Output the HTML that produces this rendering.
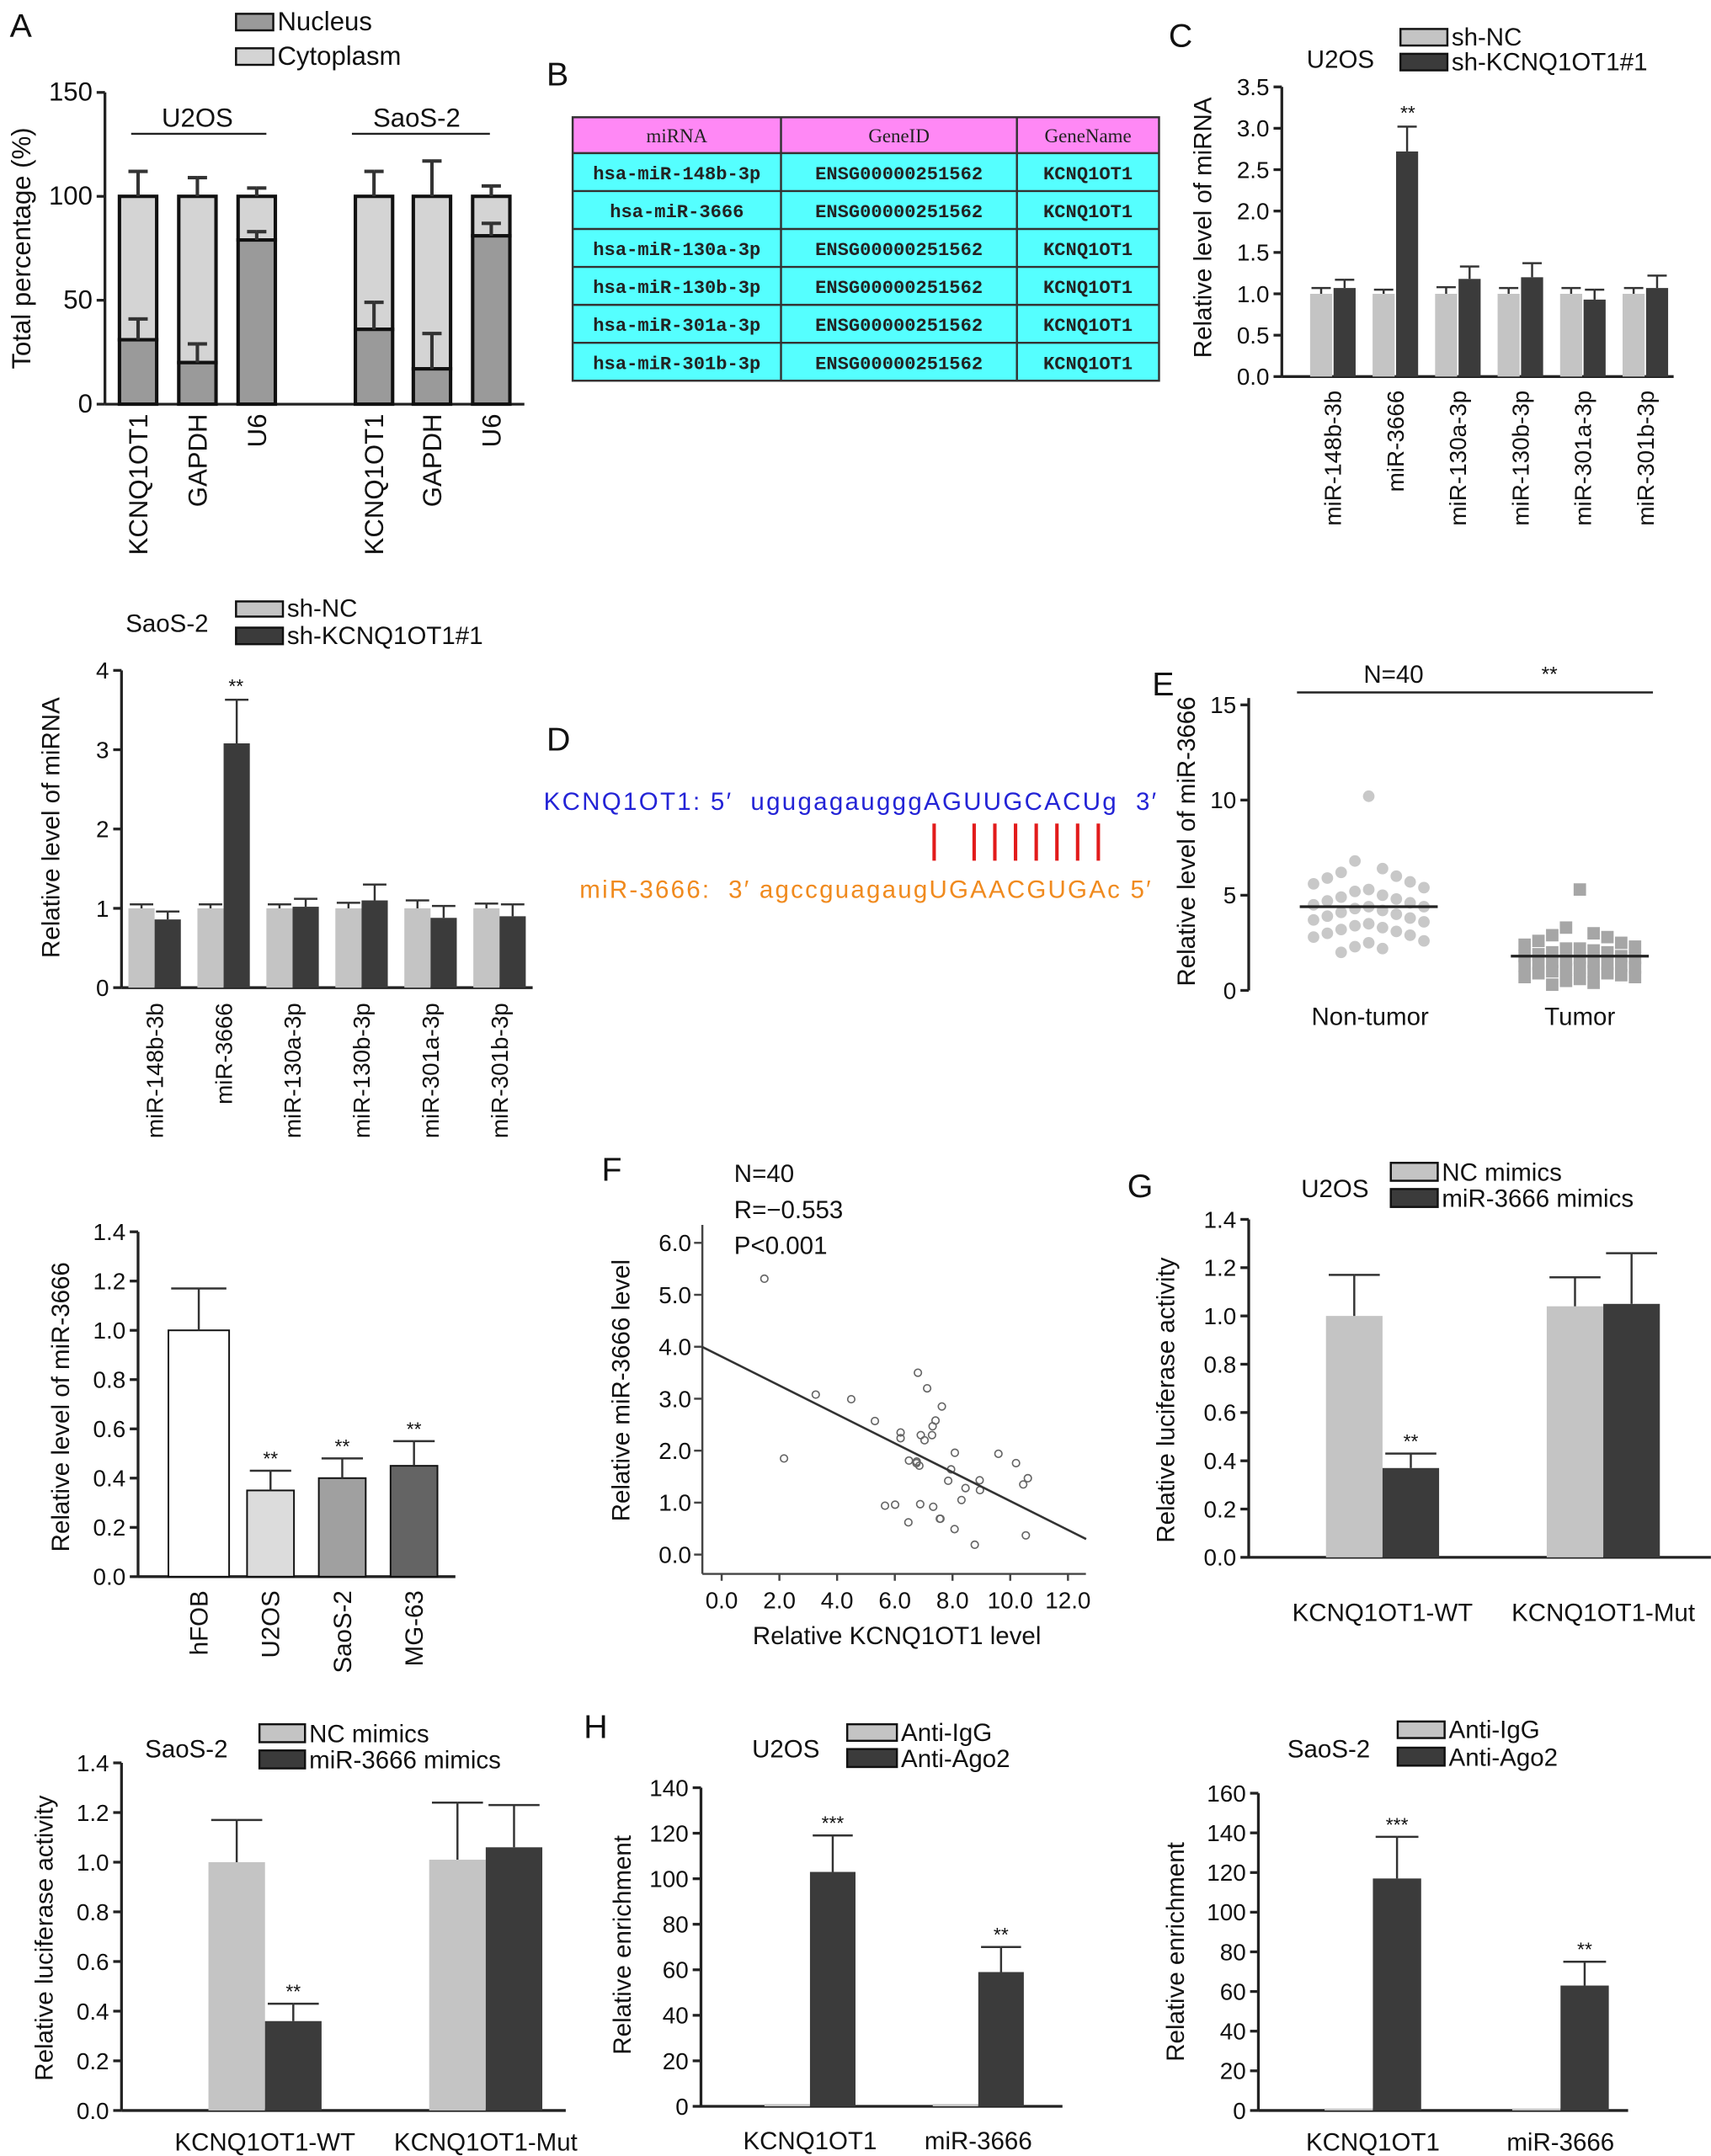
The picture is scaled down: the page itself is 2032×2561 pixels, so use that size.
<!DOCTYPE html>
<html><head><meta charset="utf-8"><style>
html,body{margin:0;padding:0;background:#fff;}
svg{display:block;font-family:"Liberation Sans",Arial,sans-serif;}
</style></head><body>
<svg id="fig" width="2032" height="2561" viewBox="0 0 1240 1563" xmlns="http://www.w3.org/2000/svg">
<rect x="0" y="0" width="1240" height="1563" fill="#fff"/>
</svg>
<script>
const NS="http://www.w3.org/2000/svg";
const svg=document.getElementById('fig');
// ---------- DATA ----------
const aCats=["KCNQ1OT1","GAPDH","U6","KCNQ1OT1","GAPDH","U6"];
const aNucleus=[31,20,79,36,17,81];
const aNucleusErr=[10,9,4,13,17,6];
const aCytoErr=[12,9,4,12,17,5];
const aTicks=[0,50,100,150];

const tblHeader=["miRNA","GeneID","GeneName"];
const tblMirna=["hsa-miR-148b-3p","hsa-miR-3666","hsa-miR-130a-3p","hsa-miR-130b-3p","hsa-miR-301a-3p","hsa-miR-301b-3p"];
const tblGeneId=["ENSG00000251562","ENSG00000251562","ENSG00000251562","ENSG00000251562","ENSG00000251562","ENSG00000251562"];
const tblGeneName=["KCNQ1OT1","KCNQ1OT1","KCNQ1OT1","KCNQ1OT1","KCNQ1OT1","KCNQ1OT1"];

const mirCats=["miR-148b-3b","miR-3666","miR-130a-3p","miR-130b-3p","miR-301a-3p","miR-301b-3p"];
const cShNC=[1.0,1.0,1.0,1.0,1.0,1.0];
const cShNCErr=[0.07,0.05,0.08,0.07,0.07,0.07];
const cShK=[1.07,2.72,1.18,1.2,0.93,1.07];
const cShKErr=[0.1,0.3,0.15,0.17,0.12,0.15];
const cTicks=[0,0.5,1.0,1.5,2.0,2.5,3.0,3.5];

const sShNC=[1.0,1.0,1.0,1.0,1.0,1.0];
const sShNCErr=[0.05,0.05,0.05,0.07,0.1,0.06];
const sShK=[0.86,3.08,1.02,1.1,0.88,0.9];
const sShKErr=[0.1,0.55,0.1,0.2,0.15,0.15];
const sTicks=[0,1,2,3,4];

const eNonTumor=[10.2,6.8,6.4,6.2,6.0,5.9,5.7,5.6,5.4,5.3,5.2,5.0,4.9,4.8,4.7,4.6,4.5,4.4,4.4,4.3,4.2,4.1,4.0,3.9,3.8,3.7,3.6,3.5,3.4,3.3,3.2,3.1,3.0,2.9,2.8,2.6,2.5,2.3,2.2,2.0];
const eTumor=[5.3,3.3,3.0,2.9,2.8,2.6,2.5,2.4,2.3,2.2,2.2,2.1,2.0,2.0,1.9,1.8,1.8,1.7,1.7,1.6,1.5,1.5,1.4,1.4,1.3,1.3,1.2,1.2,1.1,1.0,1.0,0.9,0.9,0.8,0.7,0.7,0.6,0.5,0.4,0.3];
const eMeans=[4.4,1.8];
const eTicks=[0,5,10,15];

const lineCats=["hFOB","U2OS","SaoS-2","MG-63"];
const lineVals=[1.0,0.35,0.40,0.45];
const lineErr=[0.17,0.08,0.08,0.1];
const lineStars=["","**","**","**"];
const lineTicks=[0,0.2,0.4,0.6,0.8,1.0,1.2,1.4];

const fX=[1.48,2.16,3.26,4.49,5.31,6.20,6.20,6.80,7.12,7.63,7.41,7.31,7.29,6.90,7.03,8.08,9.59,10.20,6.49,6.76,6.85,7.95,7.85,8.94,8.95,8.45,10.61,10.45,8.31,5.66,6.01,6.88,7.33,6.47,7.56,7.58,8.07,10.54,8.77,6.75];
const fY=[5.31,1.85,3.08,2.99,2.57,2.35,2.24,3.50,3.20,2.85,2.58,2.47,2.30,2.30,2.20,1.96,1.94,1.76,1.81,1.79,1.71,1.64,1.42,1.43,1.24,1.28,1.47,1.35,1.05,0.94,0.96,0.97,0.92,0.62,0.69,0.69,0.49,0.37,0.19,1.76];
const fFit=[3.81,-0.278];
const fXTicks=[0,2,4,6,8,10,12];
const fYTicks=[0,1,2,3,4,5,6];

const lucCats=["KCNQ1OT1-WT","KCNQ1OT1-Mut"];
const gNC=[1.0,1.04];
const gNCErr=[0.17,0.12];
const gMim=[0.37,1.05];
const gMimErr=[0.06,0.21];
const sLNC=[1.0,1.01];
const sLNCErr=[0.17,0.23];
const sLMim=[0.36,1.06];
const sLMimErr=[0.07,0.17];
const lucTicks=[0,0.2,0.4,0.6,0.8,1.0,1.2,1.4];

const ripCats=["KCNQ1OT1","miR-3666"];
const hUIgG=[1,1];
const hUAgo=[103,59];
const hUAgoErr=[16,11];
const hUTicks=[0,20,40,60,80,100,120,140];
const hSIgG=[1,1];
const hSAgo=[117,63];
const hSAgoErr=[21,12];
const hSTicks=[0,20,40,60,80,100,120,140,160];
const ripStars=["***","**"];

// ---------- HELPERS ----------
function mk(tag,attrs,parent){const e=document.createElementNS(NS,tag);for(const k in attrs)e.setAttribute(k,attrs[k]);(parent||svg).appendChild(e);return e;}
function txt(s,x,y,size,parent,anchor,fill,extra){const t=mk('text',Object.assign({x:x,y:y,'font-size':size,'text-anchor':anchor||'start',fill:fill||'#111'},extra||{}),parent);t.textContent=s;return t;}
function grp(name){const g=mk('g',{});return g;}
function lin(scaleFrom,scaleTo,px0,px1){return v=>px0+(v-scaleFrom)/(scaleTo-scaleFrom)*(px1-px0);}
function yAxis(g,x,y,ticks,fmt,top,size){
  const ax=mk('line',{x1:x,y1:y(ticks[0]),x2:x,y2:top,stroke:'#222','stroke-width':2},g);
  
  ticks.forEach(t=>{mk('line',{x1:x-6,y1:y(t),x2:x,y2:y(t),stroke:'#222','stroke-width':2},g);
    const l=txt(fmt(t),x-9,y(t)+6,size||17,g,'end');
    });
}
function xAxisLine(g,x0,x1,y){const a=mk('line',{x1:x0,y1:y,x2:x1,y2:y,stroke:'#222','stroke-width':2},g);}
function rotLabel(g,s,x,y,size){const t=txt(s,0,0,size||17,g,'end','#111',{transform:`translate(${x},${y}) rotate(-90)`,dy:'0.35em'});return t;}
function yTitle(g,s,x,cy,size){const t=txt(s,0,0,size||18,g,'middle','#111',{transform:`translate(${x},${cy}) rotate(-90)`});return t;}
function bar(g,x,w,y,v,fill,name,sw){const r=mk('rect',{x:x,y:y(v),width:w,height:y(0)-y(v),fill:fill,stroke:sw?'#111':'none','stroke-width':sw||0},g);return r;}
function err(g,cx,y,v,e,cap,sw){mk('line',{x1:cx,y1:y(v),x2:cx,y2:y(v+e),stroke:'#333','stroke-width':sw||1.5},g);mk('line',{x1:cx-cap,y1:y(v+e),x2:cx,y2:y(v+e),stroke:'#333','stroke-width':sw||1.5},g);mk('line',{x1:cx,y1:y(v+e),x2:cx+cap,y2:y(v+e),stroke:'#333','stroke-width':sw||1.5},g);}
function legendBox(g,x,y,w,h,fill,label,size){const r=mk('rect',{x:x,y:y,width:w,height:h,fill:fill,stroke:'#111','stroke-width':1.5},g);const t=txt(label,x+w+3,y+h,size||18,g);}
function panelLetter(s,x,y){const t=txt(s,x,y,24,svg);}
const GREY='#c4c4c4',DARK='#3b3b3b';

// ---------- PANEL A ----------
(function(){
  const g=grp('panel-a-chart');panelLetter('A',7,27);
  const y=lin(0,150,293,67);
  yAxis(g,76,y,aTicks,t=>String(t),67,19);
  xAxisLine(g,76,380,293);
  const centers=[100,143,186,271,313,356];
  aCats.forEach((c,i)=>{
    const cx=centers[i],w=27;
    const cy=mk('rect',{x:cx-w/2,y:y(100),width:w,height:y(aNucleus[i])-y(100),fill:'#d4d4d4',stroke:'#111','stroke-width':2.5},g);
    
    const nu=mk('rect',{x:cx-w/2,y:y(aNucleus[i]),width:w,height:y(0)-y(aNucleus[i]),fill:'#9a9a9a',stroke:'#111','stroke-width':2.5},g);
    
    err(g,cx,y,100,aCytoErr[i],7,2.5);
    err(g,cx,y,aNucleus[i],aNucleusErr[i],7,2.5);
    rotLabel(g,c,cx,300,19);
  });
  const t1=txt('U2OS',143,92,19,g,'middle');
  mk('line',{x1:95,y1:97,x2:193,y2:97,stroke:'#222','stroke-width':1.5},g);
  const t2=txt('SaoS-2',302,92,19,g,'middle');
  mk('line',{x1:255,y1:97,x2:355,y2:97,stroke:'#222','stroke-width':1.5},g);
  legendBox(g,171,10,27,12,'#9a9a9a','Nucleus',19);
  legendBox(g,171,35,27,12,'#d4d4d4','Cytoplasm',19);
  yTitle(g,'Total percentage (%)',22,180,19);
})();

// ---------- PANEL B TABLE ----------
(function(){
  const g=grp('panel-b-table');panelLetter('B',396,62);
  const cols=[415,566,737,840],top=85,hh=26,rh=27.5;
  const hr=mk('rect',{x:415,y:top,width:425,height:hh,fill:'#ff88f5'},g);
  const br=mk('rect',{x:415,y:top+hh,width:425,height:rh*6,fill:'#55ffff'},g);
  tblHeader.forEach((h,i)=>{const t=txt(h,(cols[i]+cols[i+1])/2,top+18,14,g,'middle','#222',{'font-family':'"Liberation Serif",serif'});});
  const rows=[tblMirna,tblGeneId,tblGeneName];
  for(let r=0;r<6;r++){rows.forEach((arr,i)=>{const t=txt(arr[r],(cols[i]+cols[i+1])/2,top+hh+rh*r+19,13.5,g,'middle','#222',{'font-family':'"Liberation Mono",monospace','font-weight':'bold'});});
    mk('line',{x1:415,y1:top+hh+rh*r,x2:840,y2:top+hh+rh*r,stroke:'#333','stroke-width':1.5},g);}
  mk('rect',{x:415,y:top,width:425,height:hh+rh*6,fill:'none',stroke:'#333','stroke-width':1.5},g);
  cols.slice(1,3).forEach(c=>mk('line',{x1:c,y1:top,x2:c,y2:top+hh+rh*6,stroke:'#333','stroke-width':1.5},g));
})();

// grouped bar helper
function grouped(g,y,centers,a,aE,b,bE,w,gap){centers.forEach((cx,i)=>{
  bar(g,cx-w-gap/2,w,y,a[i],GREY,'bar-control');err(g,cx-w/2-gap/2,y,a[i],aE[i],w/2-1);
  bar(g,cx+gap/2,w,y,b[i],DARK,'bar-treated');err(g,cx+w/2+gap/2,y,b[i],bE[i],w/2-1);});}

// ---------- PANEL C ----------
(function(){
  const g=grp('panel-c-chart');panelLetter('C',847,34);
  const y=lin(0,3.5,273,63);
  yAxis(g,929,y,cTicks,t=>t.toFixed(1),63,17);
  xAxisLine(g,929,1213,273);
  const centers=mirCats.map((c,i)=>966+45.3*i);
  grouped(g,y,centers,cShNC,cShNCErr,cShK,cShKErr,16,1);
  mirCats.forEach((c,i)=>rotLabel(g,c,centers[i],283,17));
  const s=txt('**',centers[1]+9,y(cShK[1]+cShKErr[1])-5,14,g,'middle');
  const t=txt('U2OS',947,49,18,g);
  legendBox(g,1015,21,34,12,GREY,'sh-NC');
  legendBox(g,1015,39,34,12,DARK,'sh-KCNQ1OT1#1');
  yTitle(g,'Relative level of miRNA',878,165,18);
})();

// ---------- PANEL SaoS-2 miRNA ----------
(function(){
  const g=grp('panel-saos2-mirna-chart');
  const y=lin(0,4,716,486);
  yAxis(g,88,y,sTicks,t=>String(t),486,17);
  xAxisLine(g,88,386,716);
  const centers=mirCats.map((c,i)=>112+50*i);
  grouped(g,y,centers,sShNC,sShNCErr,sShK,sShKErr,19,0);
  mirCats.forEach((c,i)=>rotLabel(g,c,centers[i],727,17));
  const s=txt('**',centers[1]+9,y(sShK[1]+sShKErr[1])-5,14,g,'middle');
  const t=txt('SaoS-2',91,458,18,g);
  legendBox(g,171,436,34,11,GREY,'sh-NC');
  legendBox(g,171,455,34,12,DARK,'sh-KCNQ1OT1#1');
  yTitle(g,'Relative level of miRNA',43,600,18);
})();

// ---------- PANEL D ----------
(function(){
  const g=grp('panel-d-binding-site');panelLetter('D',396,544);
  const t1=txt('KCNQ1OT1: 5′  ugugagaugggAGUUGCACUg  3′',394,587,18,g,'start','#2323d6',{style:'white-space:pre',textLength:444,lengthAdjust:'spacing'});
  const t2=txt('miR-3666:  3′ agccguagaugUGAACGUGAc 5′',420,651,18,g,'start','#f08a1e',{style:'white-space:pre',textLength:414,lengthAdjust:'spacing'});
  [677,706,721,736,751,766,781,796].forEach(x=>{const l=mk('line',{x1:x,y1:597,x2:x,y2:624,stroke:'#e21b1b','stroke-width':2.5},g);});
})();

// ---------- PANEL E ----------
(function(){
  const g=grp('panel-e-chart');panelLetter('E',835,504);
  const y=lin(0,15,718,511);
  yAxis(g,905,y,eTicks,t=>String(t),506,17);
  const cxs=[992,1145];
  const offs=[0,-10,10,-20,20,-30,30,-40,40];
  eNonTumor.forEach((v,i)=>{const c=mk('circle',{cx:cxs[0]+offs[i%9],cy:y(v),r:4.2,fill:'#c8c8c8'},g);});
  eTumor.forEach((v,i)=>{const c=mk('rect',{x:cxs[1]+offs[i%9]-4.5,y:y(v)-4.5,width:9,height:9,fill:'#a6a6a6'},g);});
  eMeans.forEach((m,i)=>{const l=mk('line',{x1:cxs[i]-50,y1:y(m),x2:cxs[i]+50,y2:y(m),stroke:'#222','stroke-width':2},g);});
  const n=txt('N=40',1010,495,18,g,'middle');
  const s=txt('**',1123,494,15,g,'middle');
  mk('line',{x1:940,y1:502,x2:1198,y2:502,stroke:'#222','stroke-width':1.5},g);
  const l1=txt('Non-tumor',993,743,18,g,'middle');
  const l2=txt('Tumor',1145,743,18,g,'middle');
  yTitle(g,'Relative level of miR-3666',866,610,18);
})();

// ---------- PANEL cell lines ----------
(function(){
  const g=grp('panel-cell-lines-chart');
  const y=lin(0,1.4,1143,893);
  yAxis(g,100,y,lineTicks,t=>t.toFixed(1),893,17);
  xAxisLine(g,100,330,1143);
  const fills=['#ffffff','#dcdcdc','#a0a0a0','#646464'];
  lineCats.forEach((c,i)=>{const cx=144+52*i,w=i==0?44:34;
    bar(g,cx-w/2,w,y,lineVals[i],fills[i],'bar-'+c.toLowerCase(),1.2);err(g,cx,y,lineVals[i],lineErr[i],w/2-2);
    if(lineStars[i]){const s=txt(lineStars[i],cx,y(lineVals[i]+lineErr[i])-4,14,g,'middle');}
    rotLabel(g,c,cx,1153,18);});
  yTitle(g,'Relative level of miR-3666',50,1020,18);
})();

// ---------- PANEL F ----------
(function(){
  const g=grp('panel-f-scatter');panelLetter('F',436,856);
  const x=lin(0,12,523,774),y=lin(0,6,1127,901);
  const ax=mk('line',{x1:509,y1:1141,x2:509,y2:888,stroke:'#444','stroke-width':1.5},g);
  const xa=mk('line',{x1:509,y1:1141,x2:787,y2:1141,stroke:'#444','stroke-width':1.5},g);
  fYTicks.forEach(t=>{mk('line',{x1:503,y1:y(t),x2:509,y2:y(t),stroke:'#444','stroke-width':1.5},g);const l=txt(t.toFixed(1),501,y(t)+6,17,g,'end');});
  fXTicks.forEach(t=>{mk('line',{x1:x(t),y1:1141,x2:x(t),y2:1146,stroke:'#444','stroke-width':1.5},g);const l=txt(t.toFixed(1),x(t),1166,17,g,'middle');});
  fX.forEach((v,i)=>{const c=mk('circle',{cx:x(v),cy:y(fY[i]),r:2.6,fill:'none',stroke:'#666','stroke-width':1},g);});
  const x0=-0.68,x1=12.63;
  const fl=mk('line',{x1:x(x0),y1:y(fFit[0]+fFit[1]*x0),x2:x(x1),y2:y(fFit[0]+fFit[1]*x1),stroke:'#333','stroke-width':1.6},g);
  ['N=40','R=−0.553','P<0.001'].forEach((s,i)=>{const t=txt(s,532,857+26*i,18,g);});
  const xt=txt('Relative KCNQ1OT1 level',650,1192,18,g,'middle');
  yTitle(g,'Relative miR-3666 level',456,1008,18);
})();

// luciferase / RIP helper
function pairChart(name,ax,y0,yt,max,ticks,fmt,axEnd,gx,w,nc,ncE,mi,miE,cats,labY,stars){
  const g=grp(name);const y=lin(0,max,y0,yt);
  yAxis(g,ax,y,ticks,fmt,yt,17);xAxisLine(g,ax,axEnd,y0);
  gx.forEach((cx,i)=>{
    bar(g,cx-w,w,y,nc[i],GREY,'bar-control');if(ncE)err(g,cx-w/2,y,nc[i],ncE[i],w/2-2);
    bar(g,cx,w,y,mi[i],DARK,'bar-treated');err(g,cx+w/2,y,mi[i],miE[i],w/2-2);
    if(stars&&stars[i]){const s=txt(stars[i],cx+w/2,y(mi[i]+miE[i])-4,14,g,'middle');}
    const l=txt(cats[i],cx,labY,18,g,'middle');});
  return g;}

// ---------- PANEL G ----------
(function(){
  panelLetter('G',817,868);
  const g=pairChart('panel-g-chart',905,1129,884,1.4,lucTicks,t=>t.toFixed(1),1240,[1002,1162],41,gNC,gNCErr,gMim,gMimErr,lucCats,1175,["**",""]);
  const t=txt('U2OS',943,868,18,g);
  legendBox(g,1008,843,34,13,GREY,'NC mimics');legendBox(g,1008,862,34,13,DARK,'miR-3666 mimics');
  yTitle(g,'Relative luciferase activity',851,1015,18);
})();

// ---------- PANEL SaoS-2 luciferase ----------
(function(){
  const g=pairChart('panel-saos2-luciferase-chart',88,1530,1278,1.4,lucTicks,t=>t.toFixed(1),410,[192,352],41,sLNC,sLNCErr,sLMim,sLMimErr,lucCats,1559,["**",""]);
  const t=txt('SaoS-2',105,1274,18,g);
  legendBox(g,188,1250,33,13,GREY,'NC mimics');legendBox(g,188,1269,33,13,DARK,'miR-3666 mimics');
  yTitle(g,'Relative luciferase activity',38,1405,18);
})();

// ---------- PANEL H U2OS ----------
(function(){
  panelLetter('H',423,1260);
  const g=pairChart('panel-h-u2os-chart',508,1527,1296,140,hUTicks,t=>String(t),770,[587,709],33,hUIgG,null,hUAgo,hUAgoErr,ripCats,1558,ripStars);
  const t=txt('U2OS',545,1274,18,g);
  legendBox(g,614,1250,36,12,GREY,'Anti-IgG');legendBox(g,614,1268,36,13,DARK,'Anti-Ago2');
  yTitle(g,'Relative enrichment',457,1410,18);
})();

// ---------- PANEL H SaoS-2 ----------
(function(){
  const g=pairChart('panel-h-saos2-chart',912,1530,1300,160,hSTicks,t=>String(t),1180,[995,1131],35,hSIgG,null,hSAgo,hSAgoErr,ripCats,1559,ripStars);
  const t=txt('SaoS-2',933,1274,18,g);
  legendBox(g,1013,1248,34,12,GREY,'Anti-IgG');legendBox(g,1013,1267,34,13,DARK,'Anti-Ago2');
  yTitle(g,'Relative enrichment',858,1415,18);
})();
</script>
</body></html>
